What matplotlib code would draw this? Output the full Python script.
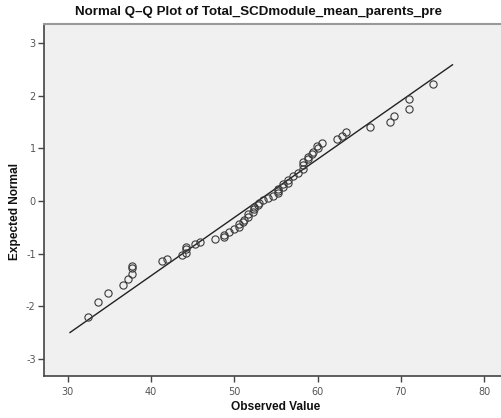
import numpy as np
import matplotlib
matplotlib.use("Agg")
import matplotlib.pyplot as plt

observed = [32.5, 33.7, 34.9, 36.6, 37.2, 37.8, 37.8, 37.8, 41.3, 41.9,
            43.7, 44.2, 44.2, 44.2, 45.3, 45.9, 47.7, 48.8, 48.8, 49.4,
            50.0, 50.6, 50.6, 51.1, 51.2, 51.7, 51.7, 52.3, 52.4, 52.4,
            52.9, 53.0, 53.5, 54.1, 54.7, 55.2, 55.3, 55.3, 55.8, 55.8,
            56.4, 56.4, 57.1, 57.7, 58.2, 58.2, 58.2, 58.8, 58.8, 59.3,
            59.4, 60.0, 59.9, 60.5, 62.3, 62.9, 63.4, 66.3, 68.7, 69.2,
            71.0, 71.0, 73.9]
expected = [-2.20, -1.92, -1.74, -1.60, -1.49, -1.39, -1.27, -1.24, -1.15, -1.10,
            -1.03, -0.98, -0.91, -0.87, -0.82, -0.78, -0.73, -0.68, -0.64, -0.59,
            -0.54, -0.49, -0.44, -0.40, -0.36, -0.31, -0.25, -0.20, -0.15, -0.11,
            -0.08, -0.03, 0.01, 0.05, 0.10, 0.15, 0.19, 0.22, 0.27, 0.32,
            0.35, 0.40, 0.48, 0.53, 0.60, 0.68, 0.74, 0.79, 0.84, 0.89,
            0.94, 1.00, 1.05, 1.11, 1.17, 1.24, 1.31, 1.40, 1.50, 1.61,
            1.75, 1.93, 2.22]

# reference line end points
line_x = [30.3, 76.2]
line_y = [-2.50, 2.59]

xticks = [30, 40, 50, 60, 70, 80]
yticks = [-3, -2, -1, 0, 1, 2, 3]

W, H = 502, 418
fig = plt.figure(figsize=(W / 100, H / 100), dpi=100)
fig.patch.set_facecolor("white")

left, right, bottom, top = 44, 507, 376, 24
ax = fig.add_axes([left / W, 1 - bottom / H, (right - left) / W, (bottom - top) / H])
ax.set_facecolor("#f0f0f0")

ax.plot(line_x, line_y, color="#222222", lw=1.0, zorder=2)
ax.plot(observed, expected, ls="none", marker="o", ms=5.2, mfc="none",
        mec="#3a3a3a", mew=0.8, zorder=3)

ax.set_xlim(27.18, 82.74)
ax.set_ylim(-3.327, 3.365)
ax.set_xticks(xticks)
ax.set_yticks(yticks)
ax.set_yticklabels([str(t) for t in yticks])

for s in ["left", "bottom"]:
    ax.spines[s].set_color("#444444")
    ax.spines[s].set_linewidth(1.2)
ax.spines["top"].set_color("#999999")
ax.spines["top"].set_linewidth(1.5)
ax.spines["right"].set_visible(False)

ax.tick_params(axis="both", direction="out", length=4, width=1.0,
               color="#444444", labelsize=7, labelcolor="#555555", pad=2)
ax.tick_params(axis="x", pad=4)

lab = dict(family="Liberation Sans", fontweight="bold", color="#111111")
fig.text(258.5 / W, 1 - 12 / H, "Normal Q\u2013Q Plot of Total_SCDmodule_mean_parents_pre",
         ha="center", va="center", fontsize=9.6, **lab)
fig.text(275.5 / W, 1 - 407 / H, "Observed Value", ha="center", va="center",
         fontsize=8.6, **lab)
fig.text(15 / W, 1 - 212 / H, "Expected Normal", ha="center", va="center",
         rotation=90, fontsize=8.6, **lab)

fig.savefig("out.png", dpi=100)
